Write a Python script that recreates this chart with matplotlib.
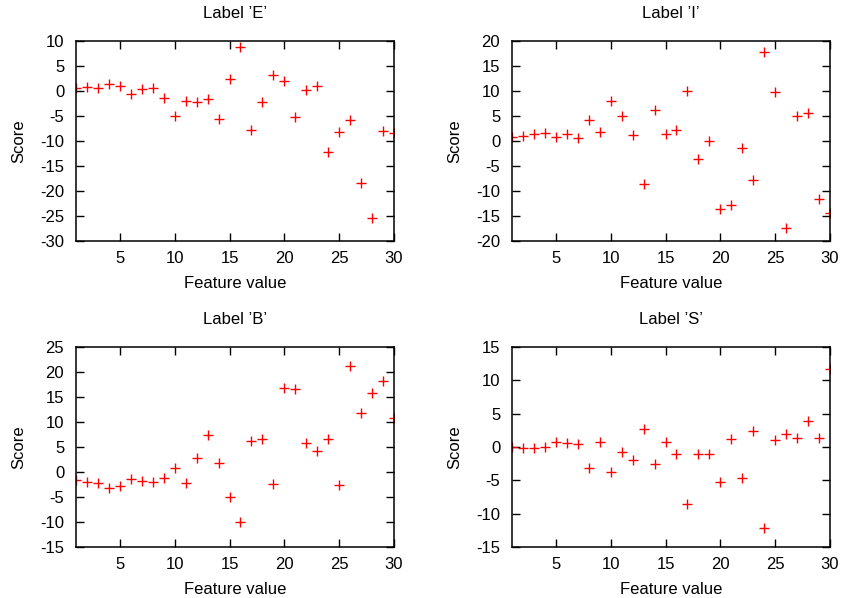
import numpy as np
import matplotlib.pyplot as plt

plt.rcParams['font.family'] = ['Liberation Sans', 'DejaVu Sans']
plt.rcParams['axes.unicode_minus'] = False

# feature values 1..30 and the score for each label
features = list(range(1, 31))

score_E = [0.7, 0.9, 0.6, 1.4, 1.1, -0.6, 0.5, 0.6, -1.4, -4.9,
           -1.9, -2.2, -1.6, -5.5, 2.5, 8.7, -7.7, -2.2, 3.3, 2.0,
           -5.1, 0.2, 1.1, -12.2, -8.1, -5.8, -18.4, -25.3, -8.0, -8.4]
score_I = [0.8, 1.0, 1.5, 1.6, 0.9, 1.4, 0.6, 4.3, 1.9, 7.9,
           4.9, 1.2, -8.6, 6.2, 1.5, 2.3, 10.0, -3.5, 0.1, -13.6,
           -12.8, -1.3, -7.7, 17.8, 9.8, -17.3, 5.1, 5.5, -11.6, -14.3]
score_B = [-1.5, -2.0, -2.2, -3.1, -2.8, -1.4, -1.8, -1.9, -1.2, 0.9,
           -2.2, 2.9, 7.4, 1.9, -4.9, -10.0, 6.2, 6.6, -2.4, 16.9,
           16.7, 5.8, 4.2, 6.6, -2.6, 21.2, 11.8, 15.9, 18.3, 10.8]
score_S = [0.0, -0.1, -0.1, 0.0, 0.7, 0.6, 0.5, -3.1, 0.8, -3.8,
           -0.8, -1.9, 2.7, -2.6, 0.8, -1.0, -8.5, -1.0, -1.1, -5.3,
           1.2, -4.7, 2.4, -12.2, 1.0, 2.0, 1.4, 3.9, 1.4, 11.7]

labels = ["E", "I", "B", "S"]
scores = [score_E, score_I, score_B, score_S]
ylims = [(-30, 10), (-20, 20), (-15, 25), (-15, 15)]

W, H = 843, 598
fig = plt.figure(figsize=(W / 100, H / 100), dpi=100)

# axes boxes in pixels: left, top, right, bottom
boxes = [(76, 41, 394, 241), (512, 41, 830, 241),
         (76, 347, 394, 547), (512, 347, 830, 547)]

for lab, sc, yl, (l, t, r, b) in zip(labels, scores, ylims, boxes):
    ax = fig.add_axes([l / W, 1 - b / H, (r - l) / W, (b - t) / H])
    ax.plot(features, sc, '+', color='red', markersize=7, markeredgewidth=1.0)
    ax.set_xlim(1, 30)
    ax.set_ylim(*yl)
    ax.set_xticks([5, 10, 15, 20, 25, 30])
    ax.set_yticks(np.arange(yl[0], yl[1] + 1, 5))
    ax.tick_params(direction='in', length=6, width=1, top=True, right=True,
                   labelsize=12)
    ax.tick_params(axis='x', pad=7.5)
    ax.tick_params(axis='y', pad=8.5)
    for s in ax.spines.values():
        s.set_linewidth(1.1)
    ax.set_title("Label \u2019" + lab + "\u2019", fontsize=12, pad=16.5)
    ax.set_xlabel("Feature value", fontsize=12, labelpad=7)
    ax.set_ylabel("Score", fontsize=12, labelpad=10)

fig.savefig("out.png", dpi=100)
